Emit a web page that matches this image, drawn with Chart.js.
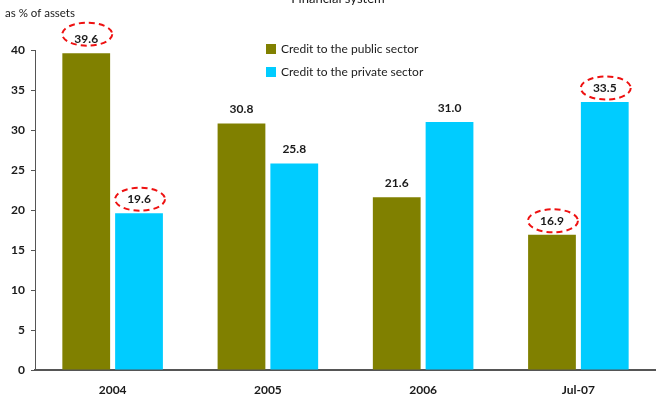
<!DOCTYPE html>
<html>
<head>
<meta charset="utf-8">
<script src="https://cdn.jsdelivr.net/npm/chart.js@4"></script>
<style>
  html, body { margin: 0; padding: 0; background: #fff; }
  #wrap { width: 656px; height: 396px; position: relative; }
</style>
</head>
<body>
<div id="wrap"><canvas id="c"></canvas></div>
<script>
// ── DATA ──────────────────────────────────────────────
const categories = ['2004', '2005', '2006', 'Jul-07'];
const publicCredit = [39.6, 30.8, 21.6, 16.9];
const privateCredit = [19.6, 25.8, 31.0, 33.5];
// which labels get the red dashed ring: [datasetIndex, index]
const circled = [[0, 0], [1, 0], [0, 3], [1, 3]];
const yTicks = [0, 5, 10, 15, 20, 25, 30, 35, 40];

const olive = '#808000';
const cyan = '#00CCFF';
const ink = '#1a1a1a';
const fontFam = 'Lato, "Open Sans", sans-serif';

// ── labels, rings, legend, titles ─────────────────────
const extras = {
  id: 'extras',
  afterDatasetsDraw(chart) {
    const ctx = chart.ctx;
    ctx.save();
    ctx.font = '700 12px ' + fontFam;
    ctx.fillStyle = ink;
    ctx.textAlign = 'center';
    ctx.textBaseline = 'middle';
    chart.data.datasets.forEach((ds, di) => {
      chart.getDatasetMeta(di).data.forEach((bar, i) => {
        const y = bar.y - 14;
        ctx.fillText(ds.data[i].toFixed(1), bar.x, y);
        if (circled.some(c => c[0] === di && c[1] === i)) {
          ctx.save();
          ctx.strokeStyle = '#ee1111';
          ctx.lineWidth = 2;
          ctx.setLineDash([6, 4]);
          ctx.beginPath();
          ctx.ellipse(bar.x + 1, y - (ds.data[i] > 38 ? 5 : 0), 25, 11.5, 0, 0, Math.PI * 2);
          ctx.stroke();
          ctx.restore();
        }
      });
    });

    // legend
    ctx.textAlign = 'left';
    ctx.font = '12px ' + fontFam;
    chart.data.datasets.forEach((ds, di) => {
      const y = 49 + di * 23;
      ctx.fillStyle = ds.backgroundColor;
      ctx.fillRect(266, y - 5, 10, 10);
      ctx.fillStyle = ink;
      ctx.fillText(ds.label, 281, y);
    });

    // title (cut at top edge) and unit
    ctx.textAlign = 'center';
    ctx.font = '13px ' + fontFam;
    ctx.fillText('Financial system', 338, -1);
    ctx.textAlign = 'left';
    ctx.font = '11.5px ' + fontFam;
    ctx.fillText('as % of assets', 5, 13);
    ctx.restore();
  }
};

new Chart(document.getElementById('c'), {
  type: 'bar',
  data: {
    labels: categories,
    datasets: [
      {
        label: 'Credit to the public sector',
        data: publicCredit,
        backgroundColor: olive,
        categoryPercentage: 0.68,
        barPercentage: 0.905
      },
      {
        label: 'Credit to the private sector',
        data: privateCredit,
        backgroundColor: cyan,
        categoryPercentage: 0.68,
        barPercentage: 0.905
      }
    ]
  },
  options: {
    responsive: true,
    maintainAspectRatio: false,
    animation: false,
    layout: { padding: { top: 50, right: 0, bottom: 0, left: 0 } },
    plugins: {
      legend: { display: false },
      tooltip: { enabled: false }
    },
    scales: {
      x: {
        afterFit: s => { s.height = 26; },
        grid: { display: false, drawTicks: false },
        border: { display: true, color: '#555', width: 2 },
        ticks: { color: ink, padding: 13, font: { family: fontFam, size: 12, weight: 'bold' } }
      },
      y: {
        min: 0, max: 40,
        afterFit: s => { s.width = 35; },
        afterBuildTicks: s => { s.ticks = yTicks.map(v => ({ value: v })); },
        grid: { drawOnChartArea: false, drawTicks: true, tickLength: 4, color: '#555' },
        border: { display: true, color: '#555', width: 1 },
        ticks: { color: ink, padding: 6, font: { family: fontFam, size: 12, weight: 'bold' } }
      }
    }
  },
  plugins: [extras]
});
</script>
</body>
</html>
